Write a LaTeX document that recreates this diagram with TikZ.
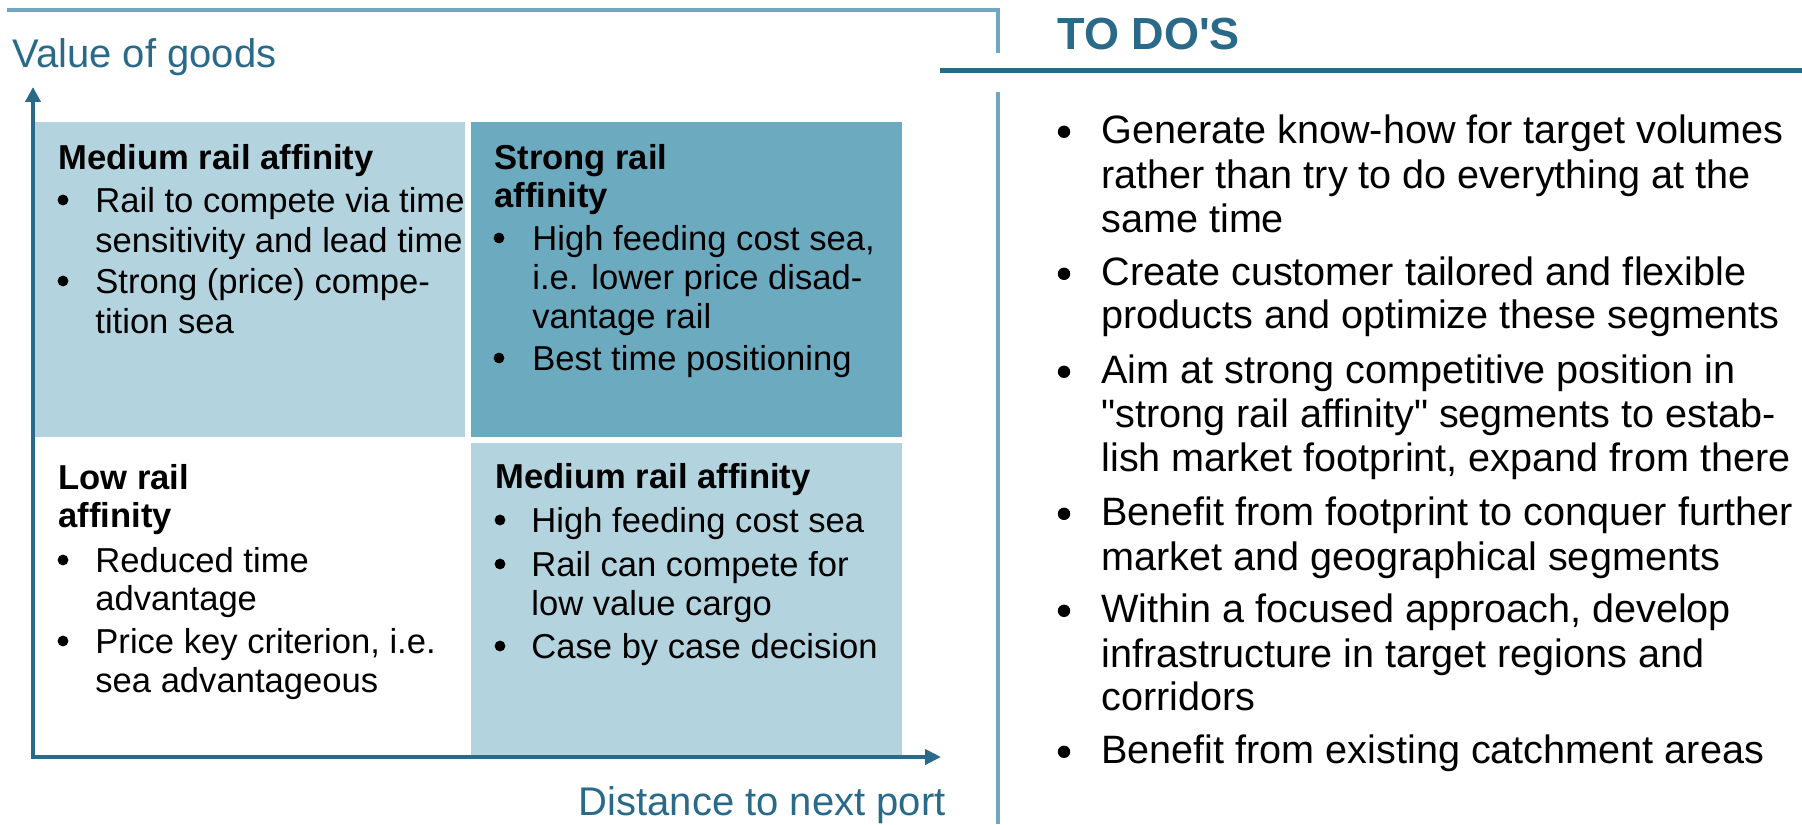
\documentclass[tikz,border=0pt]{standalone}
\usepackage{fontspec}
\setmainfont{Liberation Sans}[Ligatures=TeXOff]
\usetikzlibrary{arrows.meta}
\definecolor{qlight}{RGB}{179,211,222}
\definecolor{qdark}{RGB}{108,170,192}
\definecolor{tealdark}{RGB}{42,106,137}
\definecolor{teallight}{RGB}{110,169,193}
\begin{document}
\begin{tikzpicture}[x=0.5pt,y=-0.5pt,
  qt/.style={anchor=base west, inner sep=0pt, font=\fontsize{17.3}{20}\selectfont},
  qtitle/.style={anchor=base west, inner sep=0pt, font=\fontsize{17.3}{20}\selectfont\bfseries},
  qbul/.style={circle, fill=black, inner sep=0pt, minimum size=5.4pt, yshift=6pt},
  rt/.style={anchor=base west, inner sep=0pt, font=\fontsize{19.8}{22}\selectfont},
  rbul/.style={circle, fill=black, inner sep=0pt, minimum size=6.2pt, yshift=5.6pt},
  axlabel/.style={inner sep=0pt, text=tealdark, font=\fontsize{20}{24}\selectfont},
  axisline/.style={draw=tealdark, line width=2pt, line join=miter},
  frameline/.style={draw=teallight, line width=2pt},
]
\useasboundingbox (0,0) rectangle (1802,824);

% frame lines
\draw[frameline] (7,10) -- (998,10) -- (998,53);
\draw[frameline] (998,92) -- (998,824);
\draw[draw=tealdark, line width=2.5pt] (940,70.5) -- (1802,70.5);

% quadrants
\fill[qlight] (35,122) rectangle (465,437);
\fill[qdark] (471,122) rectangle (902,437);
\fill[qlight] (471,443) rectangle (902,756);

% axes
\coordinate (o) at (33,757);
\coordinate (ytip) at (33,87);
\coordinate (xtip) at (941,757);
\draw[axisline, {Triangle[length=7.5pt,width=7.5pt]}-{Triangle[length=8pt,width=7.5pt]}] (ytip) -- (o) -- (xtip);

\node[axlabel, anchor=base west] (ylab) at (12,68) {Value of goods};
\node[axlabel, anchor=base east] (xlab) at (946,815) {Distance to next port};

% title right
\node[anchor=base west, inner sep=0pt, text=tealdark, font=\fontsize{22.5}{26}\selectfont\bfseries] (todo) at (1057,50) {TO DO'S};

% TL quadrant
\node[qtitle] (tlt) at (58,169) {Medium rail affinity};
\node[qbul] (tlb1) at (63,212) {};
\node[qt] (tl1) at (95,212) {Rail to compete via time};
\node[qt] (tl2) at (95,252) {sensitivity and lead time};
\node[qbul] (tlb2) at (63,293) {};
\node[qt] (tl3) at (95,293) {Strong (price) compe-};
\node[qt] (tl4) at (95,333) {tition sea};

% TR quadrant
\node[qtitle] (trt1) at (494,169) {Strong rail};
\node[qtitle] (trt2) at (494,207) {affinity};
\node[qbul] (trb1) at (499,250) {};
\node[qt] (tr1) at (532,250) {High feeding cost sea,};
\node[qt] (tr2) at (532,289) {i.e. lower price disad-};
\node[qt] (tr3) at (532,328) {vantage rail};
\node[qbul] (trb2) at (499,370) {};
\node[qt] (tr4) at (532,370) {Best time positioning};

% BL quadrant
\node[qtitle] (blt1) at (58,489) {Low rail};
\node[qtitle] (blt2) at (58,527) {affinity};
\node[qbul] (blb1) at (63,572) {};
\node[qt] (bl1) at (95,572) {Reduced time};
\node[qt] (bl2) at (95,610) {advantage};
\node[qbul] (blb2) at (63,653) {};
\node[qt] (bl3) at (95,653) {Price key criterion, i.e.};
\node[qt] (bl4) at (95,692) {sea advantageous};

% BR quadrant
\node[qtitle] (brt) at (495,488) {Medium rail affinity};
\node[qbul] (brb1) at (500,532) {};
\node[qt] (br1) at (531,532) {High feeding cost sea};
\node[qbul] (brb2) at (500,576) {};
\node[qt] (br2) at (531,576) {Rail can compete for};
\node[qt] (br3) at (531,615) {low value cargo};
\node[qbul] (brb3) at (500,658) {};
\node[qt] (br4) at (531,658) {Case by case decision};

% right list
\node[rbul] (rb1) at (1064,143) {};
\node[rt] (r1) at (1101,143) {Generate know-how for target volumes};
\node[rt] (r2) at (1101,188) {rather than try to do everything at the};
\node[rt] (r3) at (1101,232) {same time};
\node[rbul] (rb2) at (1064,285) {};
\node[rt] (r4) at (1101,285) {Create customer tailored and flexible};
\node[rt] (r5) at (1101,328) {products and optimize these segments};
\node[rbul] (rb3) at (1064,383) {};
\node[rt] (r6) at (1101,383) {Aim at strong competitive position in};
\node[rt] (r7) at (1101,427) {"strong rail affinity" segments to estab-};
\node[rt] (r8) at (1101,471) {lish market footprint, expand from there};
\node[rbul] (rb4) at (1064,525) {};
\node[rt] (r9) at (1101,525) {Benefit from footprint to conquer further};
\node[rt] (r10) at (1101,570) {market and geographical segments};
\node[rbul] (rb5) at (1064,622) {};
\node[rt] (r11) at (1101,622) {Within a focused approach, develop};
\node[rt] (r12) at (1101,667) {infrastructure in target regions and};
\node[rt] (r13) at (1101,710) {corridors};
\node[rbul] (rb6) at (1064,763) {};
\node[rt] (r14) at (1101,763) {Benefit from existing catchment areas};
\end{tikzpicture}
\end{document}
